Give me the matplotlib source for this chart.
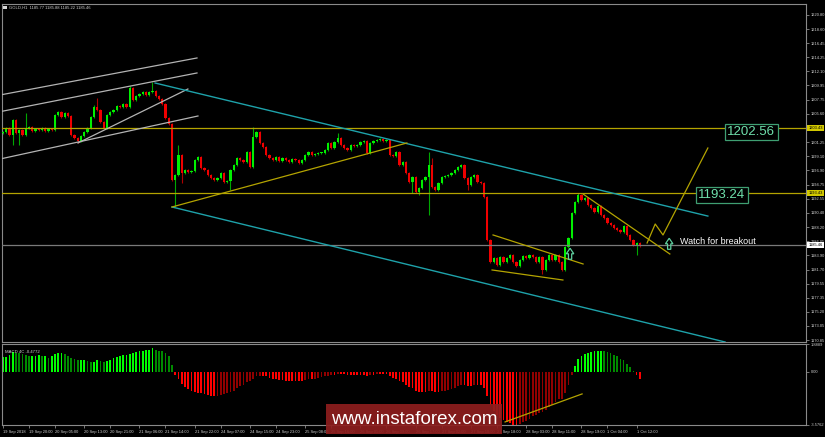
import matplotlib
matplotlib.use("Agg")
import matplotlib.pyplot as plt
from matplotlib.patches import Rectangle, Polygon
from matplotlib.transforms import blended_transform_factory
import numpy as np

# ---------------- data ----------------
symbol_line = "GOLD,H1  1185.77 1185.88 1185.22 1185.46"
first_open = 1202.65
closes = [
    1202.81, 1203.42, 1202.35, 1204.65, 1202.65, 1203.11, 1202.35, 1203.42, 1203.57, 1202.96,
    1203.27, 1203.11, 1203.42, 1202.96, 1203.27, 1203.11, 1205.41, 1205.87, 1205.11, 1205.72,
    1205.26, 1202.35, 1201.89, 1201.43, 1202.19, 1202.81, 1203.42, 1205.11, 1206.64, 1206.18,
    1204.34, 1203.42, 1205.41, 1205.87, 1206.18, 1206.79, 1206.64, 1207.10, 1206.64, 1209.56,
    1207.72, 1208.33, 1208.64, 1208.94, 1208.48, 1208.94, 1209.10, 1208.33, 1207.87, 1207.10,
    1204.95, 1204.03, 1195.44, 1196.21, 1199.28, 1196.52, 1196.98, 1196.67, 1196.82, 1198.51,
    1198.97, 1197.28, 1196.98, 1196.21, 1195.75, 1195.44, 1195.75, 1196.52, 1195.14, 1195.29,
    1196.98, 1197.74, 1198.82, 1198.51, 1198.20, 1199.74, 1197.44, 1202.04, 1202.81, 1201.12,
    1200.51, 1199.28, 1198.82, 1198.51, 1198.97, 1198.36, 1198.82, 1198.51, 1198.20, 1198.66,
    1198.51, 1198.05, 1198.51, 1199.28, 1199.74, 1199.28, 1199.43, 1199.59, 1199.59, 1200.05,
    1201.12, 1200.35, 1201.27, 1201.89, 1200.81, 1200.35, 1200.05, 1200.81, 1200.66, 1200.81,
    1201.27, 1201.43, 1199.59, 1201.12, 1201.43, 1201.58, 1201.73, 1201.43, 1201.58, 1199.28,
    1199.12, 1199.74, 1197.74, 1198.20, 1196.52, 1195.14, 1195.90, 1193.60, 1194.22, 1195.44,
    1195.90, 1197.74, 1194.37, 1193.91, 1194.98, 1195.90, 1196.06, 1196.21, 1196.52, 1196.98,
    1197.44, 1197.74, 1195.75, 1194.68, 1195.90, 1196.21, 1195.14, 1194.98, 1192.84, 1186.24,
    1182.86, 1183.48, 1182.40, 1183.63, 1182.86, 1183.48, 1183.94, 1182.86, 1182.25, 1183.17,
    1183.78, 1183.48, 1183.94, 1183.63, 1182.86, 1183.63, 1181.64, 1183.17, 1183.94, 1183.17,
    1183.94, 1182.86, 1181.64, 1185.17, 1186.55, 1190.38, 1192.07, 1193.14, 1192.38, 1192.68,
    1191.61, 1191.15, 1190.53, 1191.45, 1190.07, 1189.61, 1188.85, 1188.54, 1188.08, 1187.77,
    1187.47, 1188.39, 1187.01, 1186.24, 1185.47, 1185.77, 1185.46,
]
# notable shadows (bar index -> price)
wick_highs = {7: 1205.72, 28: 1206.95, 29: 1208.02, 39: 1209.86, 46: 1210.48, 54: 1200.81,
              77: 1203.57, 103: 1202.65, 131: 1199.74, 132: 1198.82, 177: 1193.45, 196: 1185.88}
wick_lows = {3: 1200.81, 5: 1200.81, 23: 1201.12, 53: 1191.30, 55: 1194.98, 70: 1193.91,
             126: 1193.45, 128: 1193.14, 131: 1190.07, 143: 1193.91, 166: 1181.02, 195: 1183.94,
             196: 1185.22}
wick_default = 0.2

macd_hist = [
    1.0, 1.0, 1.15, 1.35, 1.3, 1.25, 1.2, 1.15, 1.05, 1.05,
    1.1, 1.15, 1.05, 1.05, 0.95, 1.05, 1.2, 1.25, 1.25, 1.2,
    1.1, 0.95, 0.85, 0.8, 0.8, 0.8, 0.75, 0.7, 0.7, 0.8,
    0.75, 0.7, 0.75, 0.8, 0.95, 1.0, 1.05, 1.15, 1.15, 1.2,
    1.3, 1.35, 1.4, 1.45, 1.5, 1.5, 1.6, 1.5, 1.45, 1.4,
    1.3, 1.1, 0.5, -0.2, -0.5, -0.8, -1.0, -1.15, -1.3, -1.35,
    -1.4, -1.45, -1.5, -1.55, -1.6, -1.65, -1.6, -1.55, -1.5, -1.45,
    -1.35, -1.25, -1.1, -0.95, -0.85, -0.7, -0.6, -0.45, -0.3, -0.25,
    -0.25, -0.3, -0.4, -0.45, -0.5, -0.55, -0.55, -0.6, -0.6, -0.6,
    -0.6, -0.6, -0.6, -0.55, -0.5, -0.5, -0.45, -0.4, -0.35, -0.3,
    -0.25, -0.2, -0.2, -0.15, -0.15, -0.15, -0.2, -0.2, -0.2, -0.2,
    -0.2, -0.2, -0.25, -0.2, -0.2, -0.15, -0.15, -0.15, -0.15, -0.3,
    -0.4, -0.45, -0.6, -0.7, -0.85, -1.0, -1.1, -1.25, -1.35, -1.35,
    -1.35, -1.25, -1.3, -1.35, -1.35, -1.3, -1.25, -1.2, -1.15, -1.05,
    -0.95, -0.85, -0.9, -0.95, -0.95, -0.9, -0.9, -0.9, -1.05, -1.6,
    -2.2, -2.6, -2.9, -3.1, -3.25, -3.35, -3.45, -3.55, -3.55, -3.5,
    -3.4, -3.3, -3.15, -3.0, -2.9, -2.75, -2.7, -2.55, -2.35, -2.2,
    -2.0, -1.85, -1.8, -1.4, -0.9, -0.2, 0.4, 0.85, 1.05, 1.2,
    1.3, 1.35, 1.4, 1.45, 1.45, 1.4, 1.35, 1.25, 1.15, 1.05,
    0.9, 0.8, 0.55, 0.35, 0.1, -0.2, -0.48,
]
macd_label = "MACD 4C -0.4772"
macd_ticks = [1.8889, 0.0, -3.5762]
macd_tick_labels = ["1.8889", "0.00", "-3.5762"]

price_ticks = [1220.80, 1218.60, 1216.45, 1214.25, 1212.10, 1209.95, 1207.75, 1205.60,
               1201.25, 1199.10, 1196.90, 1194.75, 1192.55, 1190.40, 1188.20, 1186.05,
               1183.90, 1181.70, 1179.55, 1177.35, 1175.20, 1173.05, 1170.85]
time_label_bars = [0, 8, 16, 25, 33, 42, 50, 59, 67, 76, 84, 93, 101, 110, 118, 127,
                   135, 144, 152, 161, 169, 178, 186, 195]
time_labels = ["19 Sep 2018", "19 Sep 20:00", "20 Sep 05:00", "20 Sep 13:00", "20 Sep 21:00",
               "21 Sep 06:00", "21 Sep 14:00", "21 Sep 22:00", "24 Sep 07:00", "24 Sep 15:00",
               "24 Sep 23:00", "25 Sep 08:00", "25 Sep 16:00", "26 Sep 01:00", "26 Sep 09:00",
               "26 Sep 17:00", "27 Sep 02:00", "27 Sep 10:00", "27 Sep 18:00", "28 Sep 03:00",
               "28 Sep 11:00", "28 Sep 19:00", "1 Oct 04:00", "1 Oct 12:00"]

# horizontal levels
levels_yellow = [1203.43, 1193.43]
level_bid = 1185.46

# drawn objects (bar index, price)
gray_lines = [[(-0.92, 1208.48), (59.7, 1214.16)],
              [(-0.92, 1205.92), (59.7, 1211.86)],
              [(-0.92, 1198.66), (60.0, 1205.26)],
              [(23.08, 1201.12), (56.9, 1209.40)]]
cyan_lines = [[(46.8, 1210.32), (216.9, 1189.91)],
              [(52.0, 1191.30), (222.2, 1170.59)]]
yellow_lines = [[(52.0, 1191.30), (124.3, 1201.12)],
                [(150.8, 1187.01), (178.5, 1182.56)],
                [(150.5, 1181.64), (172.3, 1180.10)],
                [(178.5, 1193.29), (205.2, 1184.09)],
                [(198.2, 1185.78), (200.7, 1188.69), (203.1, 1187.01), (216.9, 1200.35)]]
macd_yellow_line = [(154.5, -3.37), (178.2, -1.48)]
arrows = [(174.5, 1183.28, 1184.97), (205.0, 1184.81, 1186.50)]
boxes = [(230.3, 1202.81, "1202.56"), (221.2, 1193.14, "1193.24")]
note = (208.3, 1186.08, "Watch for breakout")

# ---------------- figure ----------------
W, H = 825, 437
fig = plt.figure(figsize=(W / 100, H / 100), dpi=100, facecolor="black")
FONT = ["Liberation Sans", "DejaVu Sans"]
TXT = "#d0d0d0"
FRAME = "#8a8a8a"

ax = fig.add_axes([2 / W, (H - 342) / H, 804 / W, 338 / H], facecolor="black")
axm = fig.add_axes([2 / W, (H - 425) / H, 804 / W, 81 / H], facecolor="black", sharex=ax)

for a in (ax, axm):
    for s in a.spines.values():
        s.set_color(FRAME)
        s.set_linewidth(0.8)

ax.set_xlim(-0.3, 247.1)
ax.set_ylim(1170.59, 1222.44)
axm.set_ylim(-3.5762, 1.8889)

# candles
c = np.array(closes)
n = len(c)
idx = np.arange(n)
o = np.r_[first_open, c[:-1]]
hi_b = np.maximum(o, c)
lo_b = np.minimum(o, c)
highs = hi_b + wick_default
lows = lo_b - wick_default
for k, v in wick_highs.items():
    highs[k] = v
for k, v in wick_lows.items():
    lows[k] = v
up = c >= o
ax.vlines(idx[up], lows[up], highs[up], color="#00a800", lw=0.8, zorder=2)
ax.vlines(idx[~up], lows[~up], highs[~up], color="#b00000", lw=0.8, zorder=2)
hgt = np.maximum(hi_b - lo_b, 0.12)
ax.bar(idx[up], hgt[up], bottom=lo_b[up], width=0.7, color="#00f000", linewidth=0, zorder=3)
ax.bar(idx[~up], hgt[~up], bottom=lo_b[~up], width=0.7, color="#f00000", linewidth=0, zorder=3)

# levels
for lv in levels_yellow:
    ax.axhline(lv, color="#b4a400", lw=0.9, zorder=4)
ax.axhline(level_bid, color="#7a7a7a", lw=0.9, zorder=4)

# objects
for ln in gray_lines:
    xs, ys = zip(*ln)
    ax.plot(xs, ys, color="#b4b4b4", lw=0.9, zorder=5)
for ln in cyan_lines:
    xs, ys = zip(*ln)
    ax.plot(xs, ys, color="#1ea2aa", lw=1.0, zorder=5)
for ln in yellow_lines:
    xs, ys = zip(*ln)
    ax.plot(xs, ys, color="#b4a400", lw=0.9, zorder=5)

for xc, yb, yt in arrows:
    hs, hh = 0.5, 1.15
    yh = yb + (yt - yb) * 0.5
    verts = [(xc - hs, yb), (xc + hs, yb), (xc + hs, yh), (xc + hh, yh), (xc, yt),
             (xc - hh, yh), (xc - hs, yh)]
    ax.add_patch(Polygon(verts, closed=True, fill=False, ec="#5fd0a0", lw=0.9, zorder=6))

for bx, by, t in boxes:
    ax.text(bx, by, t, ha="center", va="center", fontsize=9.5, color="#6fe0ac", family=FONT,
            zorder=7, bbox=dict(boxstyle="square,pad=0.18", fc="black", ec="#3f9f72", lw=0.9))

ax.text(note[0], note[1], note[2], ha="left", va="center", fontsize=6.5, color="white",
        family=FONT, zorder=7)

# price axis
ax.yaxis.tick_right()
ax.set_yticks(price_ticks)
ax.set_yticklabels([f"{v:.2f}" for v in price_ticks])
ax.tick_params(axis="y", colors=FRAME, labelcolor=TXT, labelsize=2.9, length=2, width=0.6, pad=1.5)
for lab in ax.get_yticklabels():
    lab.set_family(FONT)
ax.tick_params(axis="x", length=0, labelbottom=False)

tr = blended_transform_factory(ax.transAxes, ax.transData)
for lv in levels_yellow:
    ax.text(1.003, lv, f"{lv:.2f}", transform=tr, ha="left", va="center", fontsize=2.9,
            color="black", family=FONT, clip_on=False, zorder=8,
            bbox=dict(boxstyle="square,pad=0.25", fc="#d2c800", ec="none"))
ax.text(1.003, level_bid, f"{level_bid:.2f}", transform=tr, ha="left", va="center", fontsize=2.9,
        color="black", family=FONT, clip_on=False, zorder=8,
        bbox=dict(boxstyle="square,pad=0.25", fc="white", ec="none"))

# MACD
mh = np.array(macd_hist)
prev = np.r_[mh[0], mh[:-1]]
cols = np.where(mh >= 0, np.where(mh >= prev, "#00ff00", "#008a00"),
                np.where(mh <= prev, "#ff0000", "#900000"))
axm.bar(np.arange(len(mh)), mh, width=0.5, color=cols, linewidth=0, zorder=2)
xs, ys = zip(*macd_yellow_line)
axm.plot(xs, ys, color="#b4a400", lw=0.9, zorder=3)
axm.text(0.004, 0.9, macd_label, transform=axm.transAxes, ha="left", va="center",
         fontsize=3.1, color=TXT, family=FONT)
axm.yaxis.tick_right()
axm.set_yticks(macd_ticks)
axm.set_yticklabels(macd_tick_labels)
axm.tick_params(axis="y", colors=FRAME, labelcolor=TXT, labelsize=2.9, length=2, width=0.6, pad=1.5)
axm.set_xticks(time_label_bars)
axm.set_xticklabels(time_labels)
axm.tick_params(axis="x", colors=FRAME, labelcolor=TXT, labelsize=2.9, length=2, width=0.6, pad=1.5)
for lab in axm.get_xticklabels():
    lab.set_ha("left")
    lab.set_family(FONT)
for lab in axm.get_yticklabels():
    lab.set_family(FONT)

# header
fig.patches.append(Rectangle((3 / W, 1 - 9 / H), 4 / W, 3 / H, transform=fig.transFigure,
                             fc="#d8d8d8", ec="none"))
fig.text(9 / W, 1 - 7.5 / H, symbol_line, ha="left", va="center", fontsize=3.0, color=TXT,
         family=FONT)

# watermark
fig.patches.append(Rectangle((326 / W, 1 - 434 / H), 176 / W, 30 / H, transform=fig.transFigure,
                             fc="#8e1e1e", ec="none", alpha=0.92, zorder=10))
fig.text(414 / W, 1 - 419 / H, "www.instaforex.com", ha="center", va="center", fontsize=13.5,
         color="white", family=FONT, zorder=11)

fig.savefig("out.png", dpi=100, facecolor="black")
